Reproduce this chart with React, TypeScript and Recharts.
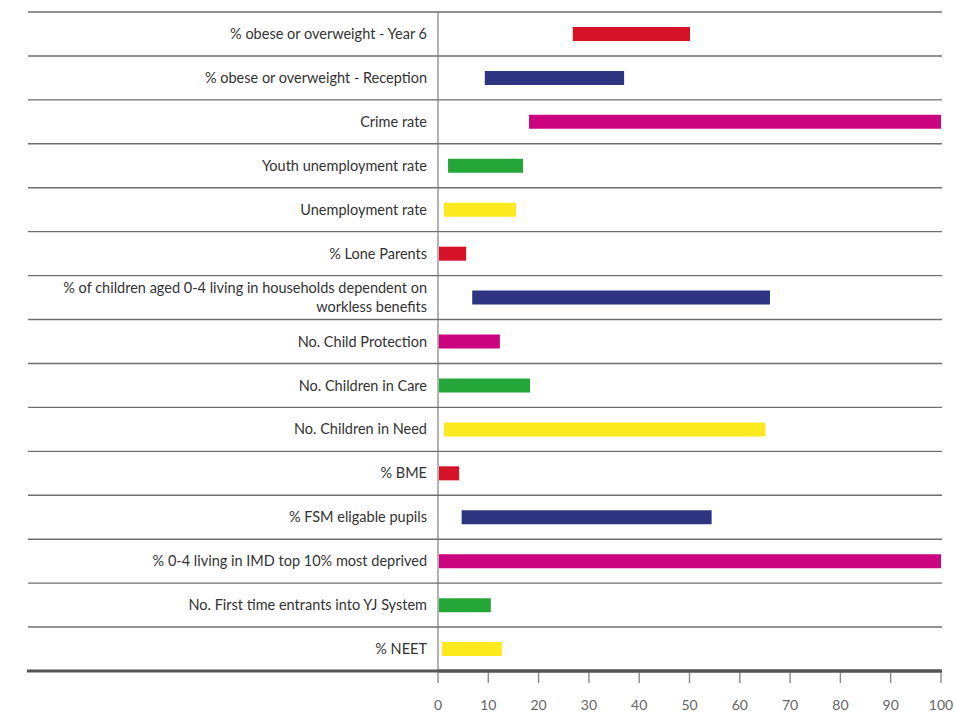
import React from 'react';
import { BarChart, Bar, XAxis, YAxis, Cell } from 'recharts';

// Rows, top to bottom
const categories = [
  '% obese or overweight - Year 6',
  '% obese or overweight - Reception',
  'Crime rate',
  'Youth unemployment rate',
  'Unemployment rate',
  '% Lone Parents',
  '% of children aged 0-4 living in households dependent on workless benefits',
  'No. Child Protection',
  'No. Children in Care',
  'No. Children in Need',
  '% BME',
  '% FSM eligable pupils',
  '% 0-4 living in IMD top 10% most deprived',
  'No. First time entrants into YJ System',
  '% NEET',
];

// start and end of each range bar
const rangeStart = [26.8, 9.3, 18.1, 2.0, 1.2, 0.2, 6.8, 0.1, 0.2, 1.2, 0.2, 4.7, 0.2, 0.2, 0.8];
const rangeEnd = [50.1, 37.0, 100, 16.9, 15.5, 5.6, 66.0, 12.3, 18.3, 65.1, 4.2, 54.4, 100, 10.5, 12.7];

const xTicks = [0, 10, 20, 30, 40, 50, 60, 70, 80, 90, 100];

const COLORS = ['#D51228', '#2E3580', '#CC037F', '#24A638', '#FCE91E'];

const data = categories.map((name, i) => ({ name, range: [rangeStart[i], rangeEnd[i]] }));

const WIDTH = 954;
const HEIGHT = 713;
const TOP = 12;
const LEFT = 438;
const RIGHT = 13;
const BOTTOM = 42;
const BAND = (HEIGHT - TOP - BOTTOM) / categories.length;
const FONT = 'Lato, "Noto Sans", sans-serif';

// split long labels into lines
const wrap = (text: string, max: number) => {
  const out: string[] = [];
  let cur = '';
  text.split(' ').forEach((w) => {
    const next = cur ? cur + ' ' + w : w;
    if (next.length > max && cur) {
      out.push(cur);
      cur = w;
    } else cur = next;
  });
  if (cur) out.push(cur);
  return out;
};

const RowTick = (props: any) => {
  const { y, payload, index } = props;
  const lines = wrap(String(payload.value), 56);
  const tx = LEFT - 11;
  const top = y - BAND / 2;
  return (
    <g>
      <line x1={28} x2={WIDTH - 12} y1={top} y2={top} stroke="#6f6f6f" strokeWidth={1.4} />
      {index === categories.length - 1 && (
        <line x1={27} x2={WIDTH - 12} y1={y + BAND / 2} y2={y + BAND / 2} stroke="#555" strokeWidth={3} />
      )}
      <text x={tx} y={y} textAnchor="end" fontSize={14.5} fill="#333" fontFamily={FONT}>
        {lines.map((l, i) => (
          <tspan key={i} x={tx} y={y + (i - (lines.length - 1) / 2) * 19} dy="0.35em">
            {l}
          </tspan>
        ))}
      </text>
    </g>
  );
};

export default function App() {
  return (
    <div style={{ position: 'absolute', left: 0, top: 0, background: '#fff' }}>
      <BarChart
        width={WIDTH}
        height={HEIGHT}
        data={data}
        layout="vertical"
        margin={{ top: TOP, right: RIGHT, bottom: 0, left: 0 }}
      >
        <XAxis
          type="number"
          domain={[0, 100]}
          ticks={xTicks}
          height={BOTTOM}
          tickSize={12}
          tickMargin={17}
          axisLine={{ stroke: '#555', strokeWidth: 3 }}
          tickLine={{ stroke: '#8a8a8a', strokeWidth: 1.4 }}
          tick={{ fill: '#666', fontSize: 14, fontFamily: FONT }}
          interval={0}
        />
        <YAxis
          type="category"
          dataKey="name"
          width={LEFT}
          tickLine={false}
          axisLine={{ stroke: '#999', strokeWidth: 1.5 }}
          tick={<RowTick />}
          interval={0}
        />
        <Bar dataKey="range" barSize={14} isAnimationActive={false}>
          {data.map((_, i) => (
            <Cell key={`cell-${i}`} fill={COLORS[i % COLORS.length]} />
          ))}
        </Bar>
      </BarChart>
    </div>
  );
}
